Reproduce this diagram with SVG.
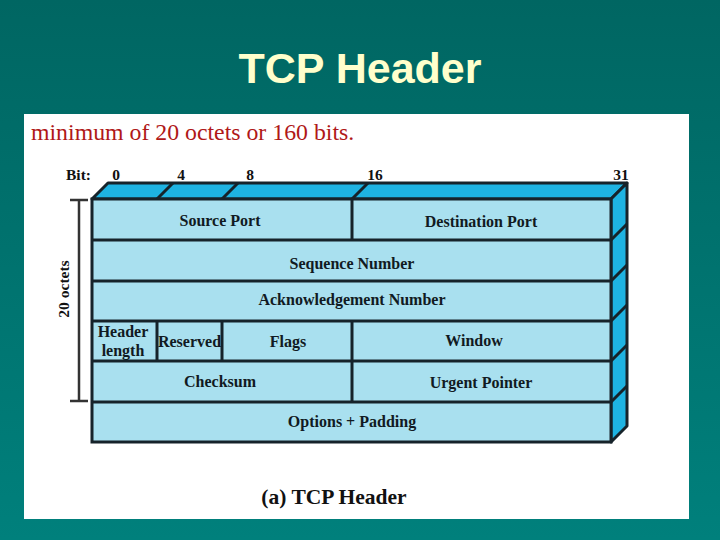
<svg xmlns="http://www.w3.org/2000/svg" width="720" height="540" viewBox="0 0 720 540">
<defs>
<linearGradient id="bg" x1="0" y1="0" x2="0" y2="1">
<stop offset="0" stop-color="#006662"/>
<stop offset="1" stop-color="#00807C"/>
</linearGradient>
<style>
.ln{stroke:#16232a;stroke-width:3;fill:none;stroke-linejoin:miter}
.face{fill:#A9E0EF;stroke:#16232a;stroke-width:3}
.side{fill:#1EB3E2;stroke:#16232a;stroke-width:3;stroke-linejoin:round}
.t{font-family:"Liberation Serif","Times New Roman",serif;font-weight:bold;font-size:16px;fill:#111a22;text-anchor:middle}
.b{font-family:"Liberation Serif","Times New Roman",serif;font-weight:bold;font-size:15.5px;fill:#111;}
</style>
</defs>
<rect width="720" height="540" fill="url(#bg)"/>
<text x="360" y="83" font-family="Liberation Sans, Arial, sans-serif" font-weight="bold" font-size="43" fill="#FFFFCC" text-anchor="middle">TCP Header</text>
<rect x="24" y="114" width="665" height="405" fill="#FFFFFF"/>
<text x="31" y="140" font-family="Liberation Serif, Times New Roman, serif" font-size="23.8" fill="#B01818">minimum of 20 octets or 160 bits.</text>

<g id="bits">
<text class="b" x="66" y="180">Bit:</text>
<text class="b" x="116" y="180" text-anchor="middle">0</text>
<text class="b" x="181" y="180" text-anchor="middle">4</text>
<text class="b" x="250" y="180" text-anchor="middle">8</text>
<text class="b" x="375" y="180" text-anchor="middle">16</text>
<text class="b" x="621" y="180" text-anchor="middle">31</text>
</g>

<g id="box3d">
<polygon class="side" points="92,199 108,183 627,183 611,199"/>
<polygon class="side" points="611,199 627,183 627,426 611,442"/>
<rect class="face" x="92" y="199" width="519" height="243"/>
</g>

<g id="connectors">
<path class="ln" d="M157,199 L173,183 M222,199 L238,183 M352,199 L368,183"/>
<path class="ln" d="M611,240 L627,224 M611,281 L627,265 M611,321 L627,305 M611,361 L627,345 M611,402 L627,386"/>
<path class="ln" d="M92,240 H611 M92,281 H611 M92,321 H611 M92,361 H611 M92,402 H611"/>
<path class="ln" d="M352,199 V240 M157,321 V361 M222,321 V361 M352,321 V402"/>
<path d="M79,200 V401 M70,200 H88 M70,401 H88" stroke="#333" stroke-width="2.5" fill="none"/>
</g>

<g id="octets"><text class="b" transform="translate(69,289) rotate(-90)" text-anchor="middle" font-size="16.5">20 octets</text></g>

<g id="source-port"><text class="t" x="220" y="226">Source Port</text></g>
<g id="destination-port"><text class="t" x="481" y="227">Destination Port</text></g>
<g id="sequence-number"><text class="t" x="352" y="269">Sequence Number</text></g>
<g id="ack-number"><text class="t" x="352" y="305">Acknowledgement Number</text></g>
<g id="header-length"><text class="t" x="123" y="337">Header</text><text class="t" x="123" y="356">length</text></g>
<g id="reserved"><text class="t" x="189.5" y="347" font-size="11">Reserved</text></g>
<g id="flags"><text class="t" x="288" y="347">Flags</text></g>
<g id="window"><text class="t" x="474" y="346">Window</text></g>
<g id="checksum"><text class="t" x="220" y="387">Checksum</text></g>
<g id="urgent-pointer"><text class="t" x="481" y="388">Urgent Pointer</text></g>
<g id="options"><text class="t" x="352" y="427">Options + Padding</text></g>

<text x="334" y="504" font-family="Liberation Serif, Times New Roman, serif" font-weight="bold" font-size="21.5" fill="#111" text-anchor="middle">(a) TCP Header</text>
</svg>
